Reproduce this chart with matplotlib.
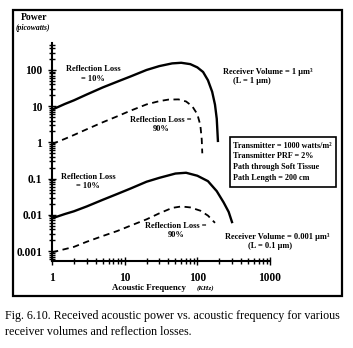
import numpy as np
import matplotlib
matplotlib.use("Agg")
import matplotlib.pyplot as plt
from matplotlib.patches import Rectangle
from matplotlib.ticker import LogLocator, NullFormatter, FixedLocator, FixedFormatter

plt.rcParams['font.family'] = ['Liberation Serif', 'DejaVu Serif']

# values (frequency in kHz, power in picowatts)
f_big_10 = [1, 1.5, 2, 3, 5, 8, 12, 20, 30, 45, 60, 80, 100, 120, 140, 160, 175, 185, 192]
p_big_10 = [8, 11.5, 14.5, 21, 33, 48, 66, 100, 128, 152, 158, 145, 118, 88, 52, 25, 11, 4.5, 1.1]

f_big_90 = [1, 1.5, 2, 3, 5, 8, 12, 20, 30, 40, 55, 70, 85, 100, 110, 115, 117]
p_big_90 = [0.9, 1.25, 1.6, 2.3, 3.6, 5.3, 7.5, 11.2, 13.8, 15.2, 15.4, 13.5, 10, 6, 3, 1.2, 0.5]

f_small_10 = [1, 1.5, 2, 3, 5, 8, 12, 20, 30, 50, 70, 100, 140, 185, 230, 270, 300]
p_small_10 = [0.008, 0.0105, 0.0125, 0.017, 0.026, 0.038, 0.053, 0.082, 0.105, 0.138, 0.145, 0.12, 0.085, 0.045, 0.022, 0.012, 0.0063]

f_small_90 = [1, 2, 3, 5, 8, 12, 20, 30, 45, 60, 80, 110, 140, 160, 175]
p_small_90 = [0.00092, 0.0013, 0.0018, 0.0026, 0.0036, 0.005, 0.0075, 0.011, 0.0155, 0.017, 0.016, 0.013, 0.0095, 0.0072, 0.006]

x_ticks = [1, 10, 100, 1000]
x_labels = ['1', '10', '100', '1000']
y_ticks = [0.001, 0.01, 0.1, 1, 10, 100]
y_labels = ['0.001', '0.01', '0.1', '1', '10', '100']

W, H = 353, 348


def fp(x, y):
    # pixel position -> figure fraction
    return x / W, 1 - y / H


fig = plt.figure(figsize=(W / 100, H / 100), dpi=100)
ax = fig.add_axes([52 / W, 1 - 261 / H, 218 / W, 218 / H])

ax.plot(f_big_10, p_big_10, color='black', lw=1.7)
ax.plot(f_big_90, p_big_90, color='black', lw=1.3, ls=(0, (3.5, 2.5)))
ax.plot(f_small_10, p_small_10, color='black', lw=1.7)
ax.plot(f_small_90, p_small_90, color='black', lw=1.3, ls=(0, (3.5, 2.5)))

ax.set_xscale('log')
ax.set_yscale('log')
ax.set_xlim(1, 1000)
ax.set_ylim(5.3e-4, 556)

for s in ['top', 'right']:
    ax.spines[s].set_visible(False)
for s in ['left', 'bottom']:
    ax.spines[s].set_linewidth(1.5)

ax.xaxis.set_major_locator(FixedLocator(x_ticks))
ax.xaxis.set_major_formatter(FixedFormatter(x_labels))
ax.yaxis.set_major_locator(FixedLocator(y_ticks))
ax.yaxis.set_major_formatter(FixedFormatter(y_labels))
ax.xaxis.set_minor_locator(LogLocator(base=10, subs=np.arange(2, 10)))
ax.yaxis.set_minor_locator(LogLocator(base=10, subs=np.arange(2, 10)))
ax.xaxis.set_minor_formatter(NullFormatter())
ax.yaxis.set_minor_formatter(NullFormatter())
ax.tick_params(which='both', direction='inout', width=1)
ax.tick_params(which='major', length=6)
ax.tick_params(which='minor', length=4)
ax.tick_params(axis='y', which='major', pad=4)
ax.tick_params(axis='x', which='major', pad=5)
for lab in ax.get_xticklabels() + ax.get_yticklabels():
    lab.set_fontsize(8.3)
    lab.set_fontweight('bold')

# frame round the whole figure
fig.patches.append(Rectangle(fp(13, 296), 329 / W, 286 / H, transform=fig.transFigure,
                             fill=False, lw=1.6, color='black'))

bold = dict(fontweight='bold', fontsize=6)
fig.text(*fp(34, 17), 'Power', ha='center', va='center', fontweight='bold', fontsize=7)
fig.text(*fp(33, 28), '(picowatts)', ha='center', va='center', style='italic',
         fontweight='bold', fontsize=5.5)

fig.text(*fp(93, 69), 'Reflection Loss', ha='center', va='center', **bold)
fig.text(*fp(93, 79), '= 10%', ha='center', va='center', **bold)
fig.text(*fp(161, 120), 'Reflection Loss =', ha='center', va='center', **bold)
fig.text(*fp(161, 129), '90%', ha='center', va='center', **bold)

fig.text(*fp(88, 177), 'Reflection Loss', ha='center', va='center', **bold)
fig.text(*fp(88, 186), '= 10%', ha='center', va='center', **bold)
fig.text(*fp(176, 226), 'Reflection Loss =', ha='center', va='center', **bold)
fig.text(*fp(176, 235), '90%', ha='center', va='center', **bold)

fig.text(*fp(223, 72), 'Receiver Volume = 1 \u00b5m\u00b3', ha='left', va='center',
         fontweight='bold', fontsize=6)
fig.text(*fp(252, 81), '(L = 1 \u00b5m)', ha='center', va='center', **bold)
fig.text(*fp(225, 237), 'Receiver Volume = 0.001 \u00b5m\u00b3', ha='left', va='center',
         fontweight='bold', fontsize=6)
fig.text(*fp(270, 246), '(L = 0.1 \u00b5m)', ha='center', va='center', **bold)

fig.patches.append(Rectangle(fp(230, 187), 106 / W, 50 / H, transform=fig.transFigure,
                             fill=False, lw=1.2, color='black'))
box_lines = ['Transmitter = 1000 watts/m\u00b2', 'Transmitter PRF = 2%',
             'Path through Soft Tissue', 'Path Length = 200 cm']
for i, t in enumerate(box_lines):
    fig.text(*fp(233, 146 + 10.5 * i), t, ha='left', va='center', fontweight='bold', fontsize=5.9)

fig.text(*fp(149, 288), 'Acoustic Frequency', ha='center', va='center', fontweight='bold', fontsize=6.3)
fig.text(*fp(205, 288), '(KHz)', ha='center', va='center', style='italic',
         fontweight='bold', fontsize=5)

fig.text(*fp(5, 316), 'Fig. 6.10. Received acoustic power vs. acoustic frequency for various',
         ha='left', va='center', fontsize=8.65)
fig.text(*fp(5, 332), 'receiver volumes and reflection losses.', ha='left', va='center', fontsize=8.65)

fig.savefig('out.png', dpi=100)
